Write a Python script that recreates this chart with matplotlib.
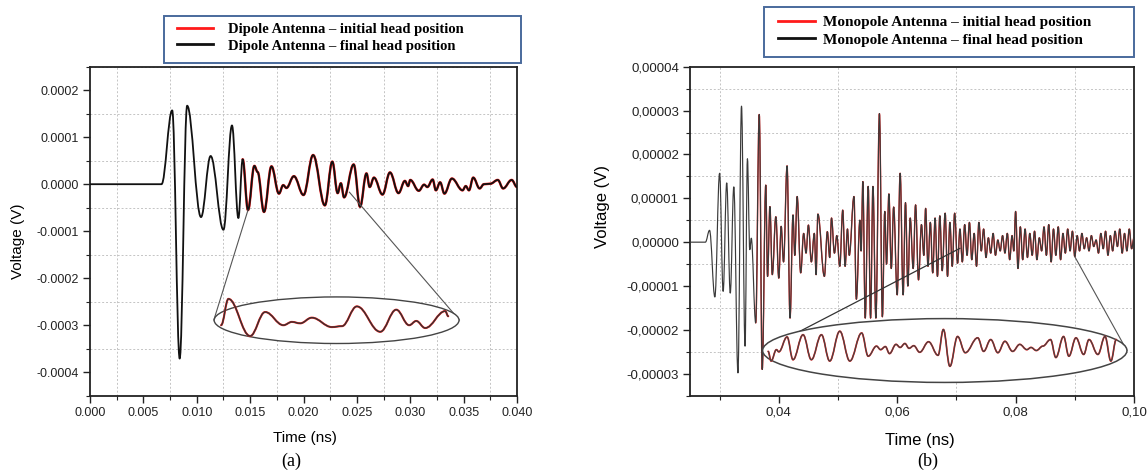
import numpy as np
import matplotlib
matplotlib.use('Agg')
import matplotlib.pyplot as plt
from matplotlib.path import Path
from matplotlib.patches import PathPatch, Ellipse, Rectangle
from matplotlib.lines import Line2D
from matplotlib.ticker import MultipleLocator, FuncFormatter

# ---- (a) dipole: extrema, time in ns, voltage in 1e-4 V
dipole_t = [0.0000, 0.0067, 0.0077, 0.0084, 0.0091, 0.0104, 0.0113, 0.0125, 0.0133, 0.0139,
            0.0143, 0.0148, 0.0154, 0.0157, 0.0163, 0.0170, 0.0177, 0.0181, 0.0184, 0.0191,
            0.0200, 0.0209, 0.0220, 0.0227, 0.0232, 0.0235, 0.0238, 0.0247, 0.0253, 0.0259,
            0.0262, 0.0266, 0.0274, 0.0281, 0.0289, 0.0295, 0.0298, 0.0300, 0.0308, 0.0313,
            0.0316, 0.0321, 0.0324, 0.0328, 0.0332, 0.0339, 0.0349, 0.0352, 0.0355, 0.0359,
            0.0365, 0.0369, 0.0375, 0.0382, 0.0387, 0.0395, 0.0400]
dipole_v = np.array([0.00, 0.00, 1.57, -3.71, 1.67, -0.70, 0.60, -0.97, 1.25, -0.72,
                     0.53, -0.55, 0.39, 0.26, -0.59, 0.38, -0.20, -0.02, -0.08, 0.17,
                     -0.23, 0.62, -0.45, 0.48, -0.19, 0.02, -0.28, 0.42, -0.48, 0.23,
                     -0.06, 0.14, -0.22, 0.25, -0.19, 0.07, -0.04, 0.09, -0.14, -0.01,
                     -0.06, 0.10, -0.13, 0.04, -0.20, 0.12, -0.13, -0.04, -0.13, 0.14,
                     -0.09, 0.00, 0.01, 0.09, -0.09, 0.09, -0.06]) * 1e-4

# magnified copy shown inside the ellipse of (a)
dipole_inset_t = [0.01228, 0.01297, 0.0150, 0.01641, 0.01812, 0.01891, 0.01969, 0.02078,
                  0.02266, 0.0236, 0.0250, 0.02719, 0.02869, 0.0299, 0.03056, 0.0314,
                  0.03328, 0.03356]
dipole_inset_v = np.array([-3.00, -2.44, -3.23, -2.72, -3.00, -2.93, -2.96, -2.84,
                           -3.04, -3.02, -2.60, -3.14, -2.67, -3.00, -2.91, -3.06,
                           -2.70, -2.81]) * 1e-4

# ---- (b) monopole: extrema, time in ns, voltage in 1e-5 V
mono_t = [0.0250, 0.0276, 0.0283, 0.0292, 0.0300, 0.0306, 0.0312, 0.0318, 0.0324, 0.0331,
          0.0337, 0.0343, 0.0347, 0.0351, 0.03535, 0.0361, 0.0367, 0.0372, 0.0378, 0.0381,
          0.0385, 0.0389, 0.0395, 0.0400, 0.0404, 0.0408, 0.0414, 0.0419, 0.0424, 0.0427,
          0.0431, 0.0437, 0.0442, 0.0446, 0.0450, 0.0455, 0.0460, 0.0463, 0.0466, 0.0477,
          0.0482, 0.0486, 0.0489, 0.0494, 0.0498, 0.0503, 0.0508, 0.0512, 0.0516, 0.0519,
          0.0527, 0.0531, 0.0537, 0.0539, 0.0542, 0.0546, 0.0551, 0.0555, 0.0559, 0.0564,
          0.0570, 0.0575, 0.0579, 0.0582, 0.0586, 0.0590, 0.0594, 0.0600, 0.0605, 0.0610,
          0.0614, 0.0618, 0.0622, 0.0627, 0.0631, 0.0636, 0.0641, 0.0645, 0.0648, 0.0652,
          0.0656, 0.0660, 0.0664, 0.0668, 0.0672, 0.0676, 0.0681, 0.0685, 0.0689, 0.0693,
          0.0697, 0.0702, 0.0706, 0.0710, 0.0714, 0.0718, 0.0722, 0.0726, 0.0730, 0.0734,
          0.0738, 0.0742, 0.0746, 0.0750, 0.0754, 0.0758, 0.0762, 0.0766, 0.0770, 0.0774,
          0.0778, 0.0782, 0.0786, 0.0790, 0.0794, 0.0797, 0.0800, 0.0804, 0.0808, 0.0812,
          0.0816, 0.0820, 0.0824, 0.0828, 0.0832, 0.0836, 0.0840, 0.0844, 0.0848, 0.0852,
          0.0856, 0.0860, 0.0864, 0.0868, 0.0872, 0.0876, 0.0880, 0.0884, 0.0888, 0.0892,
          0.0896, 0.0900, 0.0904, 0.0908, 0.0912, 0.0916, 0.0920, 0.0924, 0.0928, 0.0932,
          0.0936, 0.0940, 0.0944, 0.0948, 0.0952, 0.0956, 0.0960, 0.0964, 0.0968, 0.0972,
          0.0976, 0.0980, 0.0984, 0.0988, 0.0992, 0.0996, 0.1000]
mono_v = np.array([0.00, 0.00, 0.27, -1.25, 1.57, -1.12, 1.35, -1.16, 1.26, -2.98,
                   3.10, -2.37, 1.90, -0.17, 0.09, -1.84, 2.91, -2.90, 1.30, -0.78,
                   0.81, -0.74, 0.58, -0.82, 0.36, -0.45, 1.74, -1.73, 0.62, -0.30,
                   1.04, -0.70, 0.20, -0.25, 0.39, -0.45, 0.20, -0.74, 0.64, -0.78,
                   0.24, -0.35, 0.55, -0.25, 0.15, -0.55, 0.73, -0.55, 0.30, -0.30,
                   1.04, -1.30, 0.50, -0.20, 1.38, -1.73, 1.27, -1.73, 1.27, -1.73,
                   2.93, -1.70, 0.70, -0.50, 1.10, -0.60, 0.80, -1.20, 1.57, -1.20,
                   0.90, -1.00, 0.55, -0.60, 0.85, -0.86, 0.40, -0.30, 0.77, -0.55,
                   0.45, -0.70, 0.55, -0.78, 0.60, -0.65, 0.66, -0.78, 0.45, -0.55,
                   0.66, -0.48, 0.30, -0.45, 0.40, -0.30, 0.45, -0.40, 0.20, -0.55,
                   0.45, -0.20, 0.30, -0.35, 0.10, -0.25, 0.20, -0.30, 0.05, -0.20,
                   0.15, -0.25, 0.20, -0.40, 0.15, -0.20, 0.70, -0.60, 0.35, -0.40,
                   0.30, -0.35, 0.20, -0.30, 0.25, -0.40, 0.10, -0.20, 0.35, -0.30,
                   0.40, -0.45, 0.30, -0.30, 0.35, -0.40, 0.20, -0.25, 0.30, -0.20,
                   0.25, -0.33, 0.15, -0.20, 0.20, -0.15, 0.10, -0.20, 0.15, -0.10,
                   0.05, -0.25, 0.20, -0.15, 0.25, -0.30, 0.15, -0.20, 0.25, -0.10,
                   0.30, -0.25, 0.20, -0.20, 0.30, -0.15, 0.10]) * 1e-5

# magnified copy shown inside the ellipse of (b)
mono_inset_t = [0.0382, 0.0387, 0.0396, 0.0400, 0.0414, 0.0424, 0.0441, 0.0455, 0.0472, 0.0486,
                0.0503, 0.0520, 0.0540, 0.0551, 0.0565, 0.0572, 0.0580, 0.0587, 0.0598, 0.0605,
                0.0613, 0.0620, 0.0628, 0.0638, 0.0653, 0.0669, 0.0678, 0.0689, 0.0702, 0.0715,
                0.0736, 0.0746, 0.0758, 0.0770, 0.0782, 0.0795, 0.0807, 0.0819, 0.0826, 0.0835,
                0.0846, 0.0859, 0.0868, 0.0881, 0.0890, 0.0902, 0.0915, 0.0924, 0.0939, 0.0951,
                0.0961, 0.0970]
mono_inset_v = np.array([-2.49, -2.71, -2.45, -2.50, -2.16, -2.68, -2.11, -2.68, -2.11, -2.71,
                         -2.03, -2.71, -2.07, -2.60, -2.37, -2.45, -2.38, -2.54, -2.33, -2.40,
                         -2.31, -2.42, -2.36, -2.51, -2.27, -2.58, -1.99, -2.83, -2.15, -2.52,
                         -2.18, -2.49, -2.22, -2.52, -2.26, -2.49, -2.33, -2.45, -2.40, -2.47,
                         -2.37, -2.22, -2.63, -2.15, -2.60, -2.18, -2.56, -2.22, -2.56, -2.15,
                         -2.71, -2.22]) * 1e-5

RED = '#ff1a1a'
BLACK = '#111111'
GRID = '#c4c4c4'


def smooth_path(t, v, k=0.38):
    # spline-like connection through the extrema (horizontal tangent at each point)
    verts = [(t[0], v[0])]
    codes = [Path.MOVETO]
    for i in range(len(t) - 1):
        dx = t[i + 1] - t[i]
        verts += [(t[i] + k * dx, v[i]), (t[i + 1] - k * dx, v[i + 1]), (t[i + 1], v[i + 1])]
        codes += [Path.CURVE4] * 3
    return Path(verts, codes)


def draw_curve(ax, t, v, color, lw, z):
    ax.add_patch(PathPatch(smooth_path(t, v), fill=False, edgecolor=color, lw=lw,
                           zorder=z, capstyle='round', joinstyle='round'))


def style_axes(ax, fs):
    for s in ax.spines.values():
        s.set_linewidth(1.3)
        s.set_color('#222222')
    ax.tick_params(which='both', direction='out', top=False, right=False,
                   labelsize=fs, colors='#222222', pad=3)
    ax.tick_params(which='major', length=5, width=1.0)
    ax.tick_params(which='minor', length=3, width=0.8)
    ax.grid(which='minor', color=GRID, lw=0.7, linestyle=(0, (2, 2)), zorder=0)
    ax.set_axisbelow(True)
    for lab in ax.get_xticklabels() + ax.get_yticklabels():
        lab.set_family('Liberation Sans')


fig = plt.figure(figsize=(11.47, 4.71), dpi=100)
W, H = 1147, 471
ax1 = fig.add_axes([90 / W, 75.3 / H, 427 / W, 329 / H])
ax2 = fig.add_axes([690 / W, 75.3 / H, 444 / W, 329 / H])

# ---------------- (a)
ax1.set_xlim(0, 0.040)
ax1.set_ylim(-0.00045, 0.00025)
ax1.xaxis.set_major_locator(MultipleLocator(0.005))
ax1.xaxis.set_minor_locator(MultipleLocator(0.0025))
ax1.yaxis.set_major_locator(MultipleLocator(0.0001))
ax1.yaxis.set_minor_locator(MultipleLocator(0.00005))
ax1.xaxis.set_major_formatter(FuncFormatter(lambda x, p: f'{x:.3f}'))
ax1.yaxis.set_major_formatter(FuncFormatter(lambda y, p: f'{0 if abs(y) < 1e-12 else y:.4f}'))
style_axes(ax1, 9)

red_from = next(i for i, t in enumerate(dipole_t) if t >= 0.0143)
draw_curve(ax1, dipole_t[red_from:], dipole_v[red_from:], RED, 1.8, 2)
draw_curve(ax1, dipole_t, dipole_v, BLACK, 1.3, 3)

ax1.plot([0.0148, 0.0116], [-0.55e-4, -2.89e-4], color='#555555', lw=0.8, zorder=4)
ax1.plot([0.0243, 0.0346], [-0.17e-4, -2.89e-4], color='#555555', lw=0.8, zorder=4)
ax1.add_patch(Ellipse((0.0231, -2.894e-4), 0.02294, 0.991e-4, facecolor='white',
                      edgecolor='#444444', lw=1.0, zorder=5))
draw_curve(ax1, dipole_inset_t, dipole_inset_v, RED, 1.5, 6)
draw_curve(ax1, dipole_inset_t, dipole_inset_v, '#333333', 1.0, 7)

ax1.set_xlabel('Time (ns)', fontsize=11, family='Liberation Sans', va='center')
ax1.xaxis.set_label_coords(0.503, -0.1295)
ax1.set_ylabel('Voltage (V)', fontsize=11, family='Liberation Sans', va='center')
ax1.yaxis.set_label_coords(-0.169, 0.47)

# ---------------- (b)
ax2.set_xlim(0.025, 0.100)
ax2.set_ylim(-0.000035, 0.00004)
ax2.xaxis.set_major_locator(MultipleLocator(0.02))
ax2.xaxis.set_minor_locator(MultipleLocator(0.01))
ax2.yaxis.set_major_locator(MultipleLocator(0.00001))
ax2.yaxis.set_minor_locator(MultipleLocator(0.000005))
ax2.xaxis.set_major_formatter(FuncFormatter(lambda x, p: f'{x:.2f}'.replace('.', ',')))
ax2.yaxis.set_major_formatter(
    FuncFormatter(lambda y, p: f'{0 if abs(y) < 1e-12 else y:.5f}'.replace('.', ',')))
style_axes(ax2, 9.5)

red_from = next(i for i, t in enumerate(mono_t) if t >= 0.0355)
draw_curve(ax2, mono_t[red_from:], mono_v[red_from:], RED, 1.0, 2)
draw_curve(ax2, mono_t, mono_v, '#3a3a3a', 0.85, 3)

ax2.plot([0.0373, 0.0706], [-2.47e-5, -0.14e-5], color='#333333', lw=0.9, zorder=4)
ax2.plot([0.0900, 0.0988], [-0.33e-5, -2.47e-5], color='#555555', lw=0.8, zorder=4)
ax2.add_patch(Ellipse((0.06804, -2.47e-5), 0.06154, 1.455e-5, facecolor='white',
                      edgecolor='#444444', lw=1.1, zorder=5))
draw_curve(ax2, mono_inset_t, mono_inset_v, RED, 1.25, 6)
draw_curve(ax2, mono_inset_t, mono_inset_v, '#444444', 0.9, 7)

ax2.set_xlabel('Time (ns)', fontsize=12, family='Liberation Sans', va='center')
ax2.xaxis.set_label_coords(0.518, -0.1368)
ax2.set_ylabel('Voltage (V)', fontsize=12, family='Liberation Sans', va='center')
ax2.yaxis.set_label_coords(-0.198, 0.575)


# ---------------- legends in framed boxes above each panel
def legend_box(x0, y0, x1, y1, anchor, labels, fs, hlen, hpad):
    fig.add_artist(Rectangle((x0 / W, 1 - y1 / H), (x1 - x0) / W, (y1 - y0) / H,
                             transform=fig.transFigure, facecolor='white',
                             edgecolor='#4a6a9c', lw=1.4))
    handles = [Line2D([], [], color=RED, lw=2.0), Line2D([], [], color=BLACK, lw=2.0)]
    fig.legend(handles, labels, loc='center left',
               bbox_to_anchor=(anchor[0] / W, 1 - anchor[1] / H),
               frameon=False, borderpad=0, borderaxespad=0, handlelength=hlen,
               handletextpad=hpad, labelspacing=0.25,
               prop={'family': 'Liberation Serif', 'weight': 'bold', 'size': fs})


legend_box(163.7, 15.7, 521.2, 63.3, (177, 37.5),
           ['Dipole Antenna – initial head position', 'Dipole Antenna – final head position'],
           10.5, 2.45, 1.05)
legend_box(763.6, 7.3, 1134.3, 56.7, (778, 31.0),
           ['Monopole Antenna – initial head position', 'Monopole Antenna – final head position'],
           11, 2.4, 0.55)

fig.text(291 / W, 1 - 461.7 / H, '(a)', ha='center', va='center',
         family='Liberation Serif', fontsize=13)
fig.text(928 / W, 1 - 461.7 / H, '(b)', ha='center', va='center',
         family='Liberation Serif', fontsize=13)

fig.savefig('out.png', dpi=100)
